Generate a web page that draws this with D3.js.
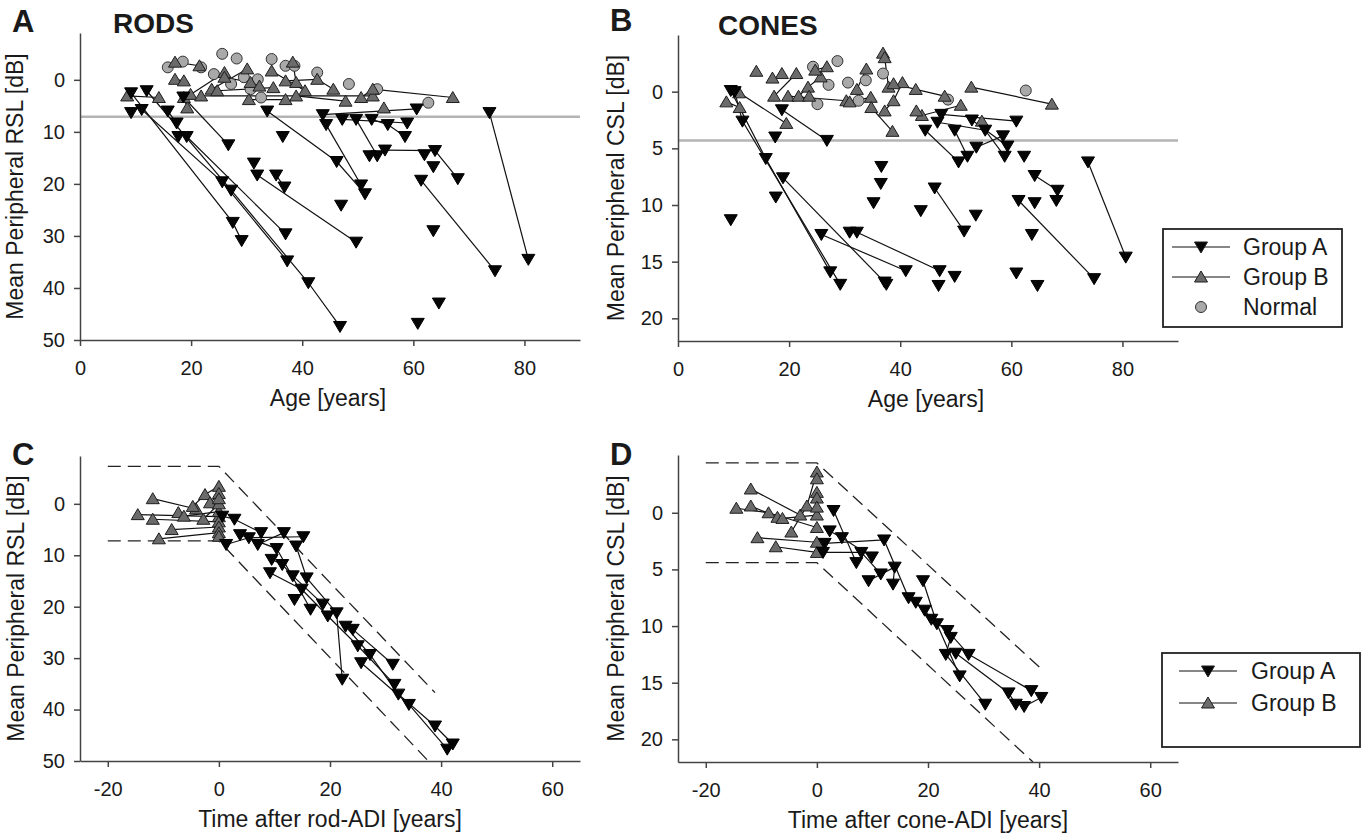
<!DOCTYPE html>
<html>
<head>
<meta charset="utf-8">
<script src="https://cdn.jsdelivr.net/npm/d3@7"></script>
<style>
body{margin:0;background:#fff}
text{font-family:"Liberation Sans",Arial,sans-serif;fill:#1a1a1a}
</style>
</head>
<body>
<div id="chart"></div>
<script>
// ---- panel A: rods, age vs RSL (each patient = list of visits [age, dB])
var rodsA=[
  [[9.2,2.5],[27.5,27.4],[29.1,30.9]],
  [[11.1,5.7],[25.6,19.6],[37.3,34.8]],
  [[12.0,2.1],[27.2,21.2],[41.1,39.0],[46.8,47.4]],
  [[9.2,6.3]],
  [[15.8,6.0],[17.4,8.3]],
  [[17.7,10.9]],
  [[19.2,10.9],[37.0,29.6]],
  [[18.6,3.3],[26.7,12.5]],
  [[31.3,16.0]],
  [[31.9,18.3],[49.7,31.2]],
  [[35.3,18.3],[36.8,20.6]],
  [[33.7,6.0],[46.2,15.7],[51.3,21.9]],
  [[36.5,10.9]],
  [[47.0,24.1]],
  [[43.7,6.7],[60.6,5.6]],
  [[44.3,8.6],[50.6,20.2]],
  [[47.2,7.6],[58.9,8.3]],
  [[49.7,7.6],[53.5,14.6]],
  [[52.1,14.6]],
  [[52.5,7.6],[55.4,8.6],[58.5,10.9]],
  [[54.9,13.5],[63.9,13.6],[68.0,19.0]],
  [[62.0,14.4]],
  [[63.6,16.7]],
  [[61.4,19.3],[74.7,36.7]],
  [[63.6,29.0]],
  [[73.7,6.3],[80.7,34.5]],
  [[64.6,42.9]],
  [[60.8,46.8]]
];
var rodsB=[
  [[8.5,3.1],[14.2,3.4]],
  [[17.1,-3.4],[21.5,-2.7]],
  [[17.1,-0.1],[18.7,0.2]],
  [[18.7,3.4],[19.3,5.4]],
  [[19.9,2.8],[26.0,-1.4]],
  [[21.8,3.1],[52.7,3.1]],
  [[23.7,1.8],[30.1,-2.1]],
  [[24.7,2.1],[34.8,1.5]],
  [[26.0,-0.5],[30.7,0.5],[32.3,1.2]],
  [[30.4,3.8],[37.0,3.8]],
  [[34.5,-1.7],[40.5,2.1]],
  [[37.0,0.2],[42.7,-0.1],[45.6,1.8]],
  [[38.3,-3.4],[38.9,0.5]],
  [[38.9,3.1],[47.8,4.1]],
  [[50.6,3.4],[52.7,1.8],[67.1,3.4]],
  [[54.7,5.4]]
];
var rodsNormal=[[15.8,-2.4],[18.5,-3.5],[21.8,-2.4],[24.1,-1.1],[25.6,-5.0],[28.2,-4.1],
  [27.2,0.8],[30.7,1.8],[32.6,3.4],[34.5,-4.0],[37.0,-2.7],[38.6,-2.7],[42.7,-1.4],
  [32.0,-0.1],[48.4,0.8],[53.5,1.8],[62.7,4.4],[29.5,-0.5]];
var rodLimit=7.1;

// ---- panel B: cones, age vs CSL
var conesA=[
  [[9.5,-0.1],[15.8,5.9],[27.4,15.9]],
  [[10.2,0.0],[11.6,2.6],[29.2,17.0]],
  [[18.9,7.6],[37.2,16.8]],
  [[17.6,9.3]],[[9.5,11.3]],[[17.5,4.0]],
  [[18.7,1.6],[26.8,4.3]],
  [[25.8,12.6],[41.0,15.8]],
  [[30.9,12.4]],
  [[32.2,12.4],[47.1,15.8]],
  [[37.5,17.0]],
  [[36.6,6.6]],[[36.5,8.1]],[[35.2,9.8]],[[43.7,10.5]],
  [[46.2,8.5],[51.5,12.3]],
  [[46.9,17.1]],[[49.8,16.3]],[[53.6,10.9]],
  [[44.5,3.4],[50.5,6.2]],
  [[47.4,2.0],[60.9,2.6]],
  [[46.7,2.7],[55.3,3.4],[58.8,5.7]],
  [[49.8,3.4],[52.1,5.7]],
  [[52.9,2.5],[59.3,4.8]],
  [[53.7,4.9],[58.5,3.9]],
  [[62.3,5.7]],
  [[64.2,7.4],[68.3,8.7]],
  [[64.2,9.8]],[[68.1,9.6]],
  [[61.3,9.6],[74.9,16.5]],
  [[63.7,12.6]],[[60.9,16.0]],[[64.7,17.1]],
  [[73.8,6.2],[80.6,14.6]]
];
var conesB=[
  [[14.1,-1.8]],
  [[8.7,0.9],[11.1,1.4]],
  [[11.0,0.1],[19.5,2.8]],
  [[17.3,0.4],[21.3,-1.6]],
  [[18.7,-1.6]],[[17.0,-1.2]],
  [[19.8,0.4],[30.3,0.8]],
  [[21.7,0.4],[23.4,-0.4],[25.7,-1.3]],
  [[23.6,0.4]],
  [[24.7,-1.9],[26.8,-2.2]],
  [[30.9,0.9],[34.7,0.5]],
  [[32.2,-0.2],[33.9,-2.0]],
  [[34.8,1.4],[38.6,3.5]],
  [[36.9,-3.4],[37.2,-3.0],[37.9,-0.4]],
  [[37.2,1.7],[38.8,0.8],[40.4,-0.8]],
  [[38.8,-0.7],[42.8,-0.2],[48.0,0.4]],
  [[43.9,2.1],[50.9,1.2]],
  [[42.9,1.7]],
  [[52.8,-0.4],[67.3,1.1]],
  [[54.7,2.6]]
];
var conesNormal=[[24.3,-2.2],[27.1,-0.6],[28.7,-2.7],[30.6,-0.8],[33.8,-1.0],[36.9,-1.6],
  [25.1,1.1],[32.5,0.8],[48.6,0.7],[62.6,-0.1]];
var coneLimit=4.3;

// ---- panel C: time after rod-ADI vs RSL
var rodTimeA=[
  [[0.6,2.4],[2.8,3.0],[7.6,5.6]],
  [[1.3,7.9],[5.4,6.6],[15.2,6.4]],
  [[3.8,6.0],[10.4,8.7],[16.5,20.5]],
  [[7.0,7.9],[11.7,5.6]],
  [[13.9,8.2],[15.8,14.4],[21.2,21.2],[22.2,34.1]],
  [[9.5,10.8],[11.4,11.8],[13.3,14.0],[18.7,19.5]],
  [[9.2,13.4],[14.9,16.6],[19.6,21.8],[25.0,27.6],[31.6,35.1]],
  [[13.6,18.6]],
  [[22.8,23.8],[27.2,29.3],[32.3,37.0],[38.9,43.2],[42.1,46.7]],
  [[24.1,24.4],[31.3,31.2]],
  [[25.6,30.9],[34.2,39.0],[41.1,47.7]]
];
var rodTimeB=[
  [[-11.9,-1.0],[-4.1,1.0]],
  [[-14.6,2.1],[0,2.5]],
  [[-11.9,3.0],[0,3.5]],
  [[-8.5,5.0],[0,4.5]],
  [[-10.8,6.8],[0,5.6]],
  [[-7.3,1.7],[-6.3,2.4],[0,1.5]],
  [[-4.7,0.5],[-2.5,-1.8],[0,-3.4]],
  [[-1.6,-0.2],[0,-2.0]],
  [[-2.8,3.0],[0,0.0]],
  [[0,-1.0]],[[0,6.3]]
];
var rodUpper=[[-20,-7.3],[0,-7.3],[38.9,36.7]];
var rodLower=[[-20,7.2],[0,7.2],[37.7,50]];

// ---- panel D: time after cone-ADI vs CSL
var coneTimeA=[
  [[3.0,-0.2],[7.1,4.4]],
  [[2.3,1.6],[4.5,2.2],[9.9,3.9]],
  [[1.4,2.7],[12.1,2.4],[16.5,7.5]],
  [[1.1,3.5],[8.0,3.5],[11.5,5.4]],
  [[9.3,6.0],[14.0,4.8],[13.7,6.3]],
  [[19.1,6.0],[21.6,9.8],[25.7,14.4]],
  [[17.8,7.9],[19.4,8.6],[20.6,9.4],[23.5,10.4],[27.3,12.5],[38.6,15.7]],
  [[24.1,11.0],[23.2,12.5],[30.3,16.9]],
  [[25.0,12.4],[34.5,15.9],[35.8,16.9]],
  [[37.3,17.1],[40.4,16.3]]
];
var coneTimeB=[
  [[-11.9,-2.1],[-3.0,0.2]],
  [[-14.5,-0.4],[-8.7,0],[0,1.3]],
  [[-11.9,-0.6],[-7.1,0.4],[-6.2,0.5],[0,0.2]],
  [[-10.7,2.2],[0,2.6]],
  [[-7.4,3.0],[0,3.5]],
  [[-4.6,1.7],[-1.8,-0.6],[0,-3.6]],
  [[0,-3.0]],[[0,-1.8]],[[0,-1.3]],[[0,-0.5]]
];
var coneUpper=[[-20,-4.4],[0,-4.4],[40.2,13.7]];
var coneLower=[[-20,4.4],[0,4.4],[38.9,22]];

var ageTicks=[0,20,40,60,80];
var timeTicks=[-20,0,20,40,60];
var rodTicks=[0,10,20,30,40,50];
var coneTicks=[0,5,10,15,20];

var svg=d3.select("#chart").append("svg").attr("width",1367).attr("height",836);

var downTri="M-6.5,-5L6.5,-5L0,6Z";
var upTri="M-6.5,5L6.5,5L0,-6Z";

function panel(p){
  // p.yr = [top, bottom]; y grows downward (0 dB near top)
  var x=d3.scaleLinear().domain(p.xd).range(p.xr);
  var y=d3.scaleLinear().domain(p.yd).range(p.yr);
  var top=p.yr[0], bottom=p.yr[1];
  var g=svg.append("g");
  var line=d3.line().x(function(d){return x(d[0]);}).y(function(d){return y(d[1]);});

  if(p.limit!=null){
    g.append("line").attr("x1",x(p.xd[0])).attr("x2",x(p.xd[1]))
      .attr("y1",y(p.limit)).attr("y2",y(p.limit))
      .style("stroke","#b4b4b4").style("stroke-width",2.5);
  }
  (p.dashed||[]).forEach(function(dl){
    g.append("path").attr("d",line(dl)).attr("fill","none")
      .style("stroke","#222").style("stroke-width",1.3).style("stroke-dasharray","13,7");
  });

  var xa=d3.axisBottom(x).tickValues(p.xt).tickSize(6).tickSizeOuter(0).tickPadding(15)
    .tickFormat(function(d){return String(d);});
  var ya=d3.axisLeft(y).tickValues(p.yt).tickSize(6).tickSizeOuter(0).tickPadding(9)
    .tickFormat(function(d){return String(d);});
  var gx=g.append("g").attr("transform","translate(0,"+bottom+")").call(xa);
  var gy=g.append("g").attr("transform","translate("+p.xr[0]+",0)").call(ya);
  [gx,gy].forEach(function(a){
    a.select(".domain").style("stroke","#444").style("stroke-width",1.5);
    a.selectAll(".tick line").style("stroke","#444").style("stroke-width",1.5);
    a.selectAll("text").style("font-size","20px").style("font-family","Liberation Sans, Arial, sans-serif").attr("fill","#1a1a1a");
  });

  // connecting lines
  var all=p.A.concat(p.B);
  g.selectAll("path.pl").data(all.filter(function(d){return d.length>1;})).enter()
    .append("path").attr("class","pl").attr("d",line).attr("fill","none")
    .style("stroke","#111").style("stroke-width",1.2);

  if(p.N){
    g.selectAll("circle.n").data(p.N).enter().append("circle").attr("class","n")
      .attr("cx",function(d){return x(d[0]);}).attr("cy",function(d){return y(d[1]);})
      .attr("r",5.5).attr("fill","#a9a9a9").attr("stroke","#333").attr("stroke-width",1);
  }
  g.selectAll("path.b").data(d3.merge(p.B)).enter().append("path").attr("class","b")
    .attr("d",upTri).attr("transform",function(d){return "translate("+x(d[0])+","+y(d[1])+")";})
    .attr("fill","#6b6b6b").attr("stroke","#1e1e1e").attr("stroke-width",1);
  g.selectAll("path.a").data(d3.merge(p.A)).enter().append("path").attr("class","a")
    .attr("d",downTri).attr("transform",function(d){return "translate("+x(d[0])+","+y(d[1])+")";})
    .attr("fill","#050505").attr("stroke","#000").attr("stroke-width",1);

  // titles
  g.append("text").attr("x",(p.xr[0]+p.xr[1])/2+p.xtOff).attr("y",bottom+66)
    .attr("text-anchor","middle").style("font-size","23px").text(p.xlab);
  g.append("text").attr("transform","translate("+(p.xr[0]-p.ylDx)+","+((top+bottom)/2)+") rotate(-90)")
    .attr("text-anchor","middle").style("font-size","23px").text(p.ylab);
  g.append("text").attr("x",p.xr[0]-68).attr("y",p.letterY).style("font-size","31px")
    .style("font-weight","bold").text(p.letter);
  if(p.title){
    g.append("text").attr("x",p.xr[0]+p.titleDx).attr("y",top).style("font-size","28px")
      .style("font-weight","bold").text(p.title);
  }
}

panel({xd:[0,90],xr:[80,580],yd:[-9,50],yr:[33,340],xt:ageTicks,yt:rodTicks,
  A:rodsA,B:rodsB,N:rodsNormal,limit:rodLimit,xlab:"Age [years]",xtOff:-2,
  ylab:"Mean Peripheral RSL [dB]",ylDx:57,letter:"A",letterY:32,title:"RODS",titleDx:33});
panel({xd:[0,90],xr:[678,1178],yd:[-5,22],yr:[35,341],xt:ageTicks,yt:coneTicks,
  A:conesA,B:conesB,N:conesNormal,limit:coneLimit,xlab:"Age [years]",xtOff:-2,
  ylab:"Mean Peripheral CSL [dB]",ylDx:54,letter:"B",letterY:31,title:"CONES",titleDx:40});
panel({xd:[-25,65],xr:[80,580],yd:[-9.3,50],yr:[456,761],xt:timeTicks,yt:rodTicks,
  A:rodTimeA,B:rodTimeB,dashed:[rodUpper,rodLower],xlab:"Time after rod-ADI [years]",xtOff:0,
  ylab:"Mean Peripheral RSL [dB]",ylDx:56,letter:"C",letterY:465});
panel({xd:[-25,65],xr:[678,1178],yd:[-5.1,22],yr:[455,762],xt:timeTicks,yt:coneTicks,
  A:coneTimeA,B:coneTimeB,dashed:[coneUpper,coneLower],xlab:"Time after cone-ADI [years]",xtOff:0,
  ylab:"Mean Peripheral CSL [dB]",ylDx:54,letter:"D",letterY:465});

// legends
function legend(x0,y0,w,h,rows,lx,tx,gap){
  var g=svg.append("g");
  g.append("rect").attr("x",x0).attr("y",y0).attr("width",w).attr("height",h)
    .attr("fill","#fff").attr("stroke","#222").attr("stroke-width",1.8);
  rows.forEach(function(r,i){
    var cy=y0+18+i*gap;
    if(r!=="Normal"){
      g.append("line").attr("x1",lx-29).attr("x2",lx+29).attr("y1",cy).attr("y2",cy)
        .style("stroke","#111").style("stroke-width",1.2);
      g.append("path").attr("d",r==="Group A"?downTri:upTri)
        .attr("transform","translate("+lx+","+cy+")")
        .attr("fill",r==="Group A"?"#050505":"#6b6b6b").attr("stroke","#1e1e1e");
    } else {
      g.append("circle").attr("cx",lx).attr("cy",cy).attr("r",5.5)
        .attr("fill","#a9a9a9").attr("stroke","#333");
    }
    g.append("text").attr("x",tx).attr("y",cy+8).style("font-size","23px").text(r);
  });
}
legend(1163,229,179,98,["Group A","Group B","Normal"],1201,1243,30);
legend(1162,653,198,94,["Group A","Group B"],1208,1251,32);
</script>
</body>
</html>
